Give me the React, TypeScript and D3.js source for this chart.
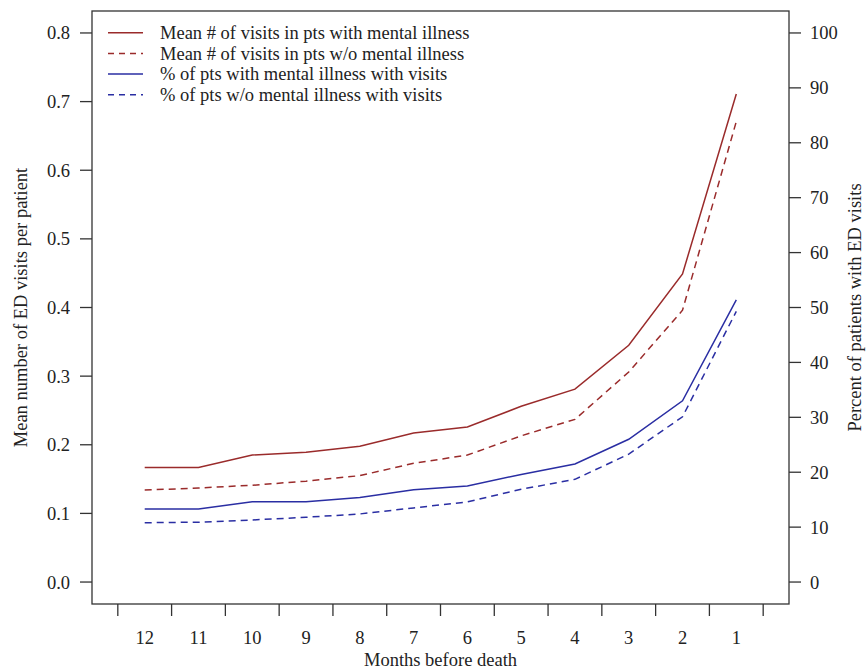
import React from "react";
import * as d3 from "d3";

const months = [12, 11, 10, 9, 8, 7, 6, 5, 4, 3, 2, 1];
const meanWithMI = [0.167, 0.167, 0.185, 0.189, 0.198, 0.217, 0.226, 0.256, 0.281, 0.345, 0.449, 0.711];
const meanWithoutMI = [0.134, 0.137, 0.141, 0.147, 0.155, 0.173, 0.185, 0.213, 0.237, 0.306, 0.396, 0.671];
const pctWithMI = [13.3, 13.3, 14.6, 14.6, 15.4, 16.8, 17.5, 19.6, 21.5, 26.0, 33.0, 51.4];
const pctWithoutMI = [10.8, 10.9, 11.3, 11.8, 12.4, 13.5, 14.6, 16.9, 18.7, 23.3, 30.1, 49.3];
const leftTicks = [0, 0.1, 0.2, 0.3, 0.4, 0.5, 0.6, 0.7, 0.8];
const rightTicks = [0, 10, 20, 30, 40, 50, 60, 70, 80, 90, 100];
const legendLabels = [
  "Mean # of visits in pts with mental illness",
  "Mean # of visits in pts w/o mental illness",
  "% of pts with mental illness with visits",
  "% of pts w/o mental illness with visits",
];

const RED = "#9a2b2b";
const BLUE = "#2a2ea3";
const AX = "#333";

export default function App() {
  const W = 866, H = 669;
  const L = 92, R = 789, T = 11, B = 604;
  const font = "Liberation Serif, DejaVu Serif, Times New Roman, serif";
  const FS = 18.5;

  const x = d3.scaleLinear().domain([0.02, 12.98]).range([L, R]);
  const yL = d3.scaleLinear().domain([-0.032, 0.832]).range([B, T]);
  const yR = d3.scaleLinear().domain([-4, 104]).range([B, T]);

  const idx = months.map((_, i) => i + 1);
  const lineL = (vals: number[]) =>
    d3.line<number>().x((_, i) => x(idx[i])).y((v) => yL(v))(vals) || "";
  const lineR = (vals: number[]) =>
    d3.line<number>().x((_, i) => x(idx[i])).y((v) => yR(v))(vals) || "";

  const xTicks = d3.range(0.5, 13, 1);
  const DASH = "7 5";

  const series = [
    { d: lineL(meanWithMI), c: RED, dash: "" },
    { d: lineL(meanWithoutMI), c: RED, dash: DASH },
    { d: lineR(pctWithMI), c: BLUE, dash: "" },
    { d: lineR(pctWithoutMI), c: BLUE, dash: DASH },
  ];

  return (
    <svg width={W} height={H} style={{ position: "absolute", left: 0, top: 0, background: "#fff", fontFamily: font }}>
      <rect x={L} y={T} width={R - L} height={B - T} fill="none" stroke={AX} strokeWidth={1.3} />
      {leftTicks.map((t) => (
        <g key={"l" + t}>
          <line x1={L - 12} x2={L} y1={yL(t)} y2={yL(t)} stroke={AX} strokeWidth={1.3} />
          <text x={70} y={yL(t)} dy="0.35em" textAnchor="end" fontSize={FS} fill="#222">
            {t.toFixed(1)}
          </text>
        </g>
      ))}
      {rightTicks.map((t) => (
        <g key={"r" + t}>
          <line x1={R} x2={R + 12} y1={yR(t)} y2={yR(t)} stroke={AX} strokeWidth={1.3} />
          <text x={810} y={yR(t)} dy="0.35em" textAnchor="start" fontSize={FS} fill="#222">
            {t}
          </text>
        </g>
      ))}
      {xTicks.map((t) => (
        <line key={"x" + t} x1={x(t)} x2={x(t)} y1={B} y2={B + 12} stroke={AX} strokeWidth={1.3} />
      ))}
      {months.map((m, i) => (
        <text key={"m" + m} x={x(idx[i])} y={644} textAnchor="middle" fontSize={FS} fill="#222">
          {m}
        </text>
      ))}
      <text x={(L + R) / 2} y={666} textAnchor="middle" fontSize={FS} fill="#222">
        Months before death
      </text>
      <text transform={`translate(27,${(T + B) / 2}) rotate(-90)`} textAnchor="middle" fontSize={FS} fill="#222">
        Mean number of ED visits per patient
      </text>
      <text transform={`translate(861,${(T + B) / 2}) rotate(-90)`} textAnchor="middle" fontSize={FS} fill="#222">
        Percent of patients with ED visits
      </text>
      {series.map((s, i) => (
        <path key={"s" + i} d={s.d} fill="none" stroke={s.c} strokeWidth={1.5} strokeDasharray={s.dash || undefined} />
      ))}
      {legendLabels.map((lab, i) => {
        const yy = 32.7 + i * 20.7;
        const s = series[i];
        return (
          <g key={"lg" + i}>
            <line x1={108} x2={143} y1={yy} y2={yy} stroke={s.c} strokeWidth={1.5} strokeDasharray={s.dash ? "6 5" : undefined} />
            <text x={160} y={yy} dy="0.33em" fontSize={FS} fill="#222">
              {lab}
            </text>
          </g>
        );
      })}
    </svg>
  );
}
